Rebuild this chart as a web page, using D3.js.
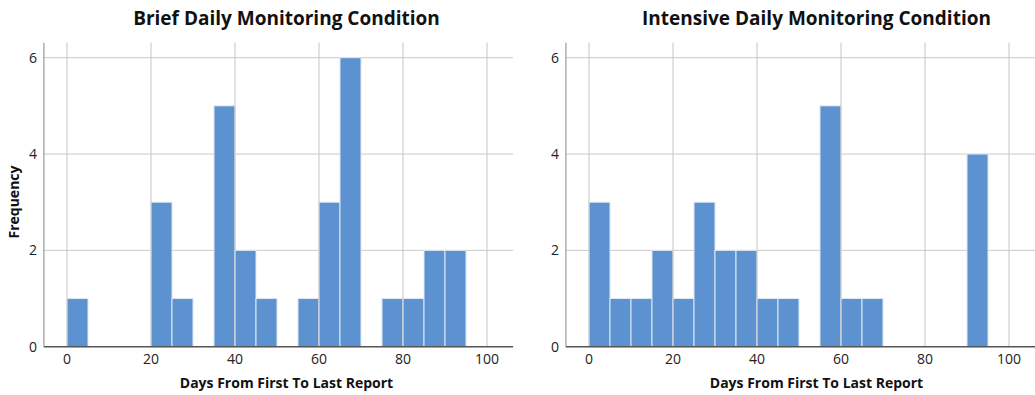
<!DOCTYPE html>
<html>
<head>
<meta charset="utf-8">
<script src="https://cdn.jsdelivr.net/npm/d3@7"></script>
<style>
  body { margin: 0; background: #fff; }
  svg { display: block; font-family: "Open Sans", "Noto Sans", sans-serif; }
</style>
</head>
<body>
<svg id="chart" width="1035" height="395"></svg>
<script>
// bins are 5 days wide, starting at 0
var binStarts = d3.range(0, 100, 5);
var briefCounts = [1, 0, 0, 0, 3, 1, 0, 5, 2, 1, 0, 1, 3, 6, 0, 1, 1, 2, 2, 0];
var intensiveCounts = [3, 1, 1, 2, 1, 3, 2, 2, 1, 1, 0, 5, 1, 1, 0, 0, 0, 0, 4, 0];
var xTicks = [0, 20, 40, 60, 80, 100];
var yTicks = [0, 2, 4, 6];
var titles = ["Brief Daily Monitoring Condition", "Intensive Daily Monitoring Condition"];

var svg = d3.select("#chart");

var panels = [
    { title: titles[0], counts: briefCounts, dx: 0, tx: 286.5, ylabel: true },
    { title: titles[1], counts: intensiveCounts, dx: 522, tx: 816.5, ylabel: false }
];

var y = d3.scaleLinear().domain([0, 6]).range([346.7, 57.7]);

panels.forEach(function(p) {
    var g = svg.append("g").attr("transform", "translate(" + p.dx + ",0)");
    var x = d3.scaleLinear().domain([0, 100]).range([67, 487]);
    var left = x(-5.5), right = x(106.2);
    var top = 42.7;

    // horizontal grid
    g.selectAll(".hgrid").data(yTicks.slice(1)).enter()
        .append("line")
        .attr("x1", left).attr("x2", right)
        .attr("y1", function(d) { return y(d); })
        .attr("y2", function(d) { return y(d); })
        .attr("stroke", "#c9c9c9").attr("stroke-width", 1);

    var bins = binStarts.map(function(s, i) { return { x0: s, x1: s + 5, n: p.counts[i] }; })
        .filter(function(b) { return b.n > 0; });

    g.selectAll(".bar").data(bins).enter()
        .append("rect")
        .attr("x", function(d) { return x(d.x0); })
        .attr("width", function(d) { return x(d.x1) - x(d.x0); })
        .attr("y", function(d) { return y(d.n); })
        .attr("height", function(d) { return y(0) - y(d.n); })
        .attr("fill", "#5b92cf")
        .attr("stroke", "#dfe8f3")
        .attr("stroke-width", 1);

    // vertical grid on top of bars
    g.selectAll(".vgrid").data(xTicks).enter()
        .append("line")
        .attr("x1", function(d) { return x(d); })
        .attr("x2", function(d) { return x(d); })
        .attr("y1", top).attr("y2", y(0))
        .attr("stroke", "#c4c4c4").attr("stroke-width", 1);

    // axes lines
    g.append("line").attr("x1", left).attr("x2", left).attr("y1", top).attr("y2", y(0))
        .attr("stroke", "#9a9a9a").attr("stroke-width", 1.2);
    g.append("line").attr("x1", left).attr("x2", right).attr("y1", y(0)).attr("y2", y(0))
        .attr("stroke", "#555").attr("stroke-width", 1.5);

    // tick labels
    g.selectAll(".xt").data(xTicks).enter()
        .append("text")
        .attr("x", function(d) { return x(d); })
        .attr("y", 364)
        .attr("text-anchor", "middle")
        .attr("font-size", 14)
        .attr("fill", "#222")
        .text(function(d) { return d; });

    g.selectAll(".yt").data(yTicks).enter()
        .append("text")
        .attr("x", left - 7)
        .attr("y", function(d) { return y(d) + 5; })
        .attr("text-anchor", "end")
        .attr("font-size", 14)
        .attr("fill", "#222")
        .text(function(d) { return d; });

    // titles are centred a bit differently from the plot areas
    svg.append("text")
        .attr("x", p.tx).attr("y", 24.5)
        .attr("text-anchor", "middle")
        .attr("font-size", 19)
        .attr("font-weight", "bold")
        .attr("fill", "#111")
        .text(p.title);

    svg.append("text")
        .attr("x", p.tx).attr("y", 388)
        .attr("text-anchor", "middle")
        .attr("font-size", 14)
        .attr("font-weight", "bold")
        .attr("fill", "#111")
        .text("Days From First To Last Report");

    if (p.ylabel) {
        g.append("text")
            .attr("transform", "translate(19,202) rotate(-90)")
            .attr("text-anchor", "middle")
            .attr("font-size", 14)
            .attr("font-weight", "bold")
            .attr("fill", "#111")
            .text("Frequency");
    }
});
</script>
</body>
</html>
